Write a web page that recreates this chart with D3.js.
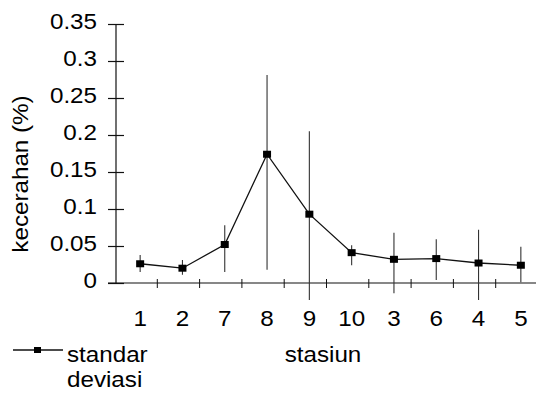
<!doctype html>
<html>
  <head>
    <meta charset="utf-8">
    <title>kecerahan per stasiun</title>
    <style>
      html, body { margin: 0; padding: 0; background: #fff; }
      svg text { font-family: "Liberation Sans", Arial, sans-serif; font-size: 22px; fill: #000; }
    </style>
  </head>
  <body>
    <svg id="chart" width="536" height="398"></svg>
    <script src="https://d3js.org/d3.v7.min.js"></script>
    <script>
      // stations in the order they are plotted
      var stasiun = ["1", "2", "7", "8", "9", "10", "3", "6", "4", "5"];
      // mean kecerahan (%)
      var kecerahan = [0.026, 0.020, 0.052, 0.174, 0.093, 0.041, 0.032, 0.033, 0.027, 0.024];
      // ends of the standar deviasi bars
      var sdAtas = [0.038, 0.031, 0.078, 0.281, 0.205, 0.051, 0.068, 0.059, 0.072, 0.049];
      var sdBawah = [0.015, 0.011, 0.015, 0.018, -0.023, 0.024, -0.014, 0.004, -0.023, 0.001];
      var yTicks = [0, 0.05, 0.1, 0.15, 0.2, 0.25, 0.3, 0.35];
      var yTickLabels = ["0", "0.05", "0.1", "0.15", "0.2", "0.25", "0.3", "0.35"];

      var stretch = 1.1; // the scanned lettering is a bit wide

      var svg = d3.select("#chart");

      var x = d3.scaleBand().domain(stasiun).range([115, 538]).padding(0);
      var y = d3.scaleLinear().domain([0, 0.35]).range([283, 24]);
      var bw = x.bandwidth();
      function cx(d) { return x(d) + bw / 2 + 4; }

      // y axis
      var yAxis = svg.append("g")
          .attr("transform", "translate(116,0)")
          .call(d3.axisLeft(y).tickValues(yTicks).tickSize(8).tickFormat(function(d, i) { return yTickLabels[i]; }));
      yAxis.select(".domain").attr("d", "M0," + y(0.35) + "V" + y(0)).attr("stroke", "#111").attr("stroke-width", 1.2);
      yAxis.selectAll(".tick line").attr("x1", 8).attr("stroke", "#111").attr("stroke-width", 1.2);
      yAxis.selectAll(".tick text")
          .attr("x", null).attr("dy", null)
          .attr("transform", "translate(-19,4) scale(" + stretch + ",1)")
          .style("font-family", "\"Liberation Sans\", Arial, sans-serif")
          .style("font-size", "22px")
          .attr("fill", "#000");

      // x axis
      var xAxis = svg.append("g");
      xAxis.append("line")
          .attr("x1", 108).attr("x2", 536)
          .attr("y1", y(0)).attr("y2", y(0))
          .attr("stroke", "#111").attr("stroke-width", 1.2);
      xAxis.selectAll(".xtick")
          .data(stasiun.slice(1))
          .enter().append("line")
          .attr("class", "xtick")
          .attr("x1", function(d) { return x(d); })
          .attr("x2", function(d) { return x(d); })
          .attr("y1", y(0) - 4).attr("y2", y(0) + 5)
          .attr("stroke", "#111").attr("stroke-width", 1);
      xAxis.selectAll(".xlabel")
          .data(stasiun)
          .enter().append("text")
          .attr("class", "xlabel")
          .attr("text-anchor", "middle")
          .attr("transform", function(d) { return "translate(" + cx(d) + ",326) scale(" + stretch + ",1)"; })
          .text(function(d) { return d; });

      // error bars
      svg.selectAll(".sd")
          .data(stasiun)
          .enter().append("line")
          .attr("class", "sd")
          .attr("x1", function(d) { return cx(d); })
          .attr("x2", function(d) { return cx(d); })
          .attr("y1", function(d, i) { return y(sdAtas[i]); })
          .attr("y2", function(d, i) { return y(sdBawah[i]); })
          .attr("stroke", "#333").attr("stroke-width", 1.1);

      // line + markers
      var line = d3.line()
          .x(function(d) { return cx(d); })
          .y(function(d, i) { return y(kecerahan[i]); });
      svg.append("path")
          .datum(stasiun)
          .attr("d", line)
          .attr("fill", "none")
          .attr("stroke", "#111")
          .attr("stroke-width", 1.3);
      svg.selectAll(".pt")
          .data(stasiun)
          .enter().append("rect")
          .attr("class", "pt")
          .attr("x", function(d) { return cx(d) - 4; })
          .attr("y", function(d, i) { return y(kecerahan[i]) - 3.5; })
          .attr("width", 8).attr("height", 7)
          .attr("fill", "#000");

      // axis titles
      svg.append("text")
          .attr("text-anchor", "middle")
          .attr("transform", "translate(28,174) rotate(-90) scale(" + stretch + ",1)")
          .text("kecerahan (%)");
      svg.append("text")
          .attr("text-anchor", "middle")
          .attr("transform", "translate(323,362) scale(" + stretch + ",1)")
          .text("stasiun");

      // legend
      var lg = svg.append("g");
      lg.append("line")
          .attr("x1", 13).attr("x2", 63).attr("y1", 350).attr("y2", 350)
          .attr("stroke", "#111").attr("stroke-width", 1.3);
      lg.append("rect")
          .attr("x", 34).attr("y", 347).attr("width", 7).attr("height", 6)
          .attr("fill", "#000");
      lg.append("text")
          .attr("transform", "translate(67,362) scale(" + stretch + ",1)")
          .text("standar");
      lg.append("text")
          .attr("transform", "translate(67,387) scale(" + stretch + ",1)")
          .text("deviasi");
    </script>
  </body>
</html>
